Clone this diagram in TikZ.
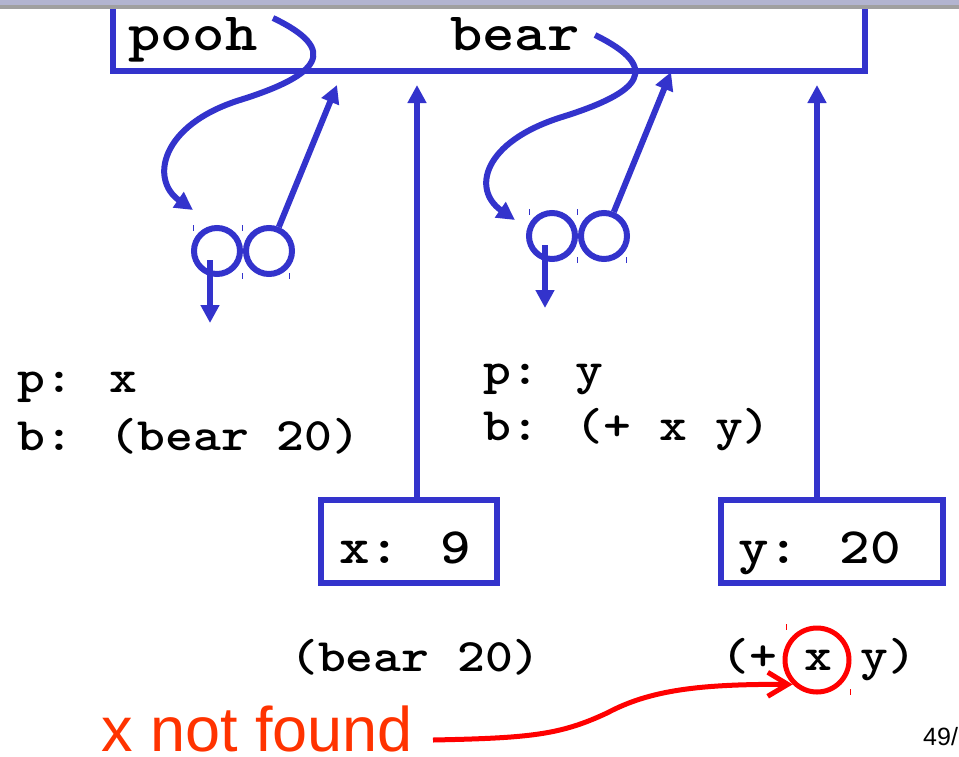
\documentclass[tikz,border=0pt]{standalone}
\usepackage{fontspec}
\setsansfont{Liberation Sans}
\newfontfamily\courbold{lmmonolt10-bold.otf}[FakeStretch=1.14]
\usetikzlibrary{arrows.meta,calc,positioning}
\definecolor{ptrblue}{RGB}{51,51,204}
\definecolor{errred}{RGB}{255,0,0}
\definecolor{errtext}{RGB}{255,51,0}
\definecolor{barlav}{RGB}{178,180,208}
\definecolor{bargrey}{RGB}{160,160,160}
\newcommand{\codebig}{\courbold\fontsize{54}{60}\selectfont}
\newcommand{\codebox}{\courbold\fontsize{51}{58}\selectfont}
\newcommand{\codesmall}{\courbold\fontsize{46.5}{56}\selectfont}
\tikzstyle{frame} = [rectangle, draw=ptrblue, line width=6pt, inner sep=0pt]
\tikzstyle{cell} = [circle, draw=ptrblue, line width=6pt, minimum size=46pt, inner sep=0pt]
\tikzstyle{code} = [anchor=base west, inner sep=0pt, font=\codesmall]
\tikzstyle{arrow} = [color=ptrblue, line width=6pt, -{Triangle[length=18pt,width=18pt]}]
\tikzstyle{errarrow} = [color=errred, line width=5pt, -{Straight Barb[length=20pt,width=24pt]}]
\tikzstyle{handle} = [draw=ptrblue, line width=1pt]
\begin{document}
\begin{tikzpicture}[x=1pt,y=-1pt]
\useasboundingbox (0,0) rectangle (959,756);
\clip (0,0) rectangle (959,756);

% frame with pooh and bear
\node (env) [frame, minimum width=752pt, minimum height=95pt] at (489,23.5) {};
\fill [barlav] (0,0) rectangle (959,5);
\fill [bargrey] (0,5) rectangle (959,9);
\node (pooh) [code, font=\codebig] at (128,50) {pooh};
\node (bear) [code, font=\codebig] at (450,50) {bear};

% procedure pairs
\node (pcar) [cell] at (217,251) {};
\node (pcdr) [cell, right=0pt of pcar] {};
\node (bcar) [cell] at (552,236) {};
\node (bcdr) [cell, right=0pt of bcar] {};
\foreach \hx/\hy in {193/228, 242/228, 242/276, 289/276, 529/212, 577/212, 577/260, 626/260}
  \draw [handle] (\hx,\hy-3) -- (\hx,\hy+3);

\coordinate (poohtail) at (273,18);
\coordinate (poohtip) at (193,210);
\coordinate (beartail) at (595,35);
\coordinate (beartip) at (515,220);
\coordinate (penv) at (337,85);
\coordinate (benv) at (671,72);
\draw [arrow] (poohtail) .. controls (340,50) and (320,75) .. (240,100) .. controls (160,125) and (150,180) .. (poohtip);
\draw [arrow] (beartail) .. controls (662,68) and (642,92) .. (562,117) .. controls (482,142) and (472,190) .. (beartip);
\draw [arrow] (pcdr) -- (penv);
\draw [arrow] (bcdr) -- (benv);
\draw [arrow] ($(pcar)+(-7,9)$) -- ++(0,63);
\draw [arrow] ($(bcar)+(-7,9)$) -- ++(0,63);

% bindings
\node (pbind) [code] at (17,392) {p: x};
\node (bbind) [code] at (17,450) {b: (bear 20)};
\node (pbind2) [code] at (483,384) {p: y};
\node (bbind2) [code] at (483,440) {b: (+ x y)};

% global frames
\node (xbox) [frame, minimum width=176pt, minimum height=83pt] at (409,541.5) {};
\node (xval) [code, font=\codebox] at (339,563) {x: 9};
\node (ybox) [frame, minimum width=222pt, minimum height=83pt] at (832,541.5) {};
\node (yval) [code, font=\codebox] at (738,563) {y: 20};
\coordinate (xup) at (417,85);
\coordinate (yup) at (817,85);
\draw [arrow] (xup |- xbox.north) -- (xup);
\draw [arrow] (yup |- ybox.north) -- (yup);

% calls
\node (call1) [code] at (290,671) {(bear 20)};
\node (call2) [code] at (721,670) {(+ x y)};
\node (miss) [circle, draw=errred, line width=5pt, minimum size=64pt, inner sep=0pt] at (817,660) {};
\foreach \hx/\hy in {786/627, 850/692}
  \draw [handle, draw=errred] (\hx,\hy-3) -- (\hx,\hy+3);
\node (note) [anchor=base west, inner sep=0pt, font=\fontsize{63}{70}\selectfont\sffamily, text=errtext] at (101,751) {x not found};
\coordinate (notetail) at (433,740);
\draw [errarrow] (notetail) .. controls (530,738) and (560,735) .. (607,713) .. controls (650,690) and (700,684) .. (miss.225);
\node (page) [anchor=base west, inner sep=0pt, font=\fontsize{25}{30}\selectfont\sffamily] at (923,745) {49/};
\end{tikzpicture}
\end{document}
